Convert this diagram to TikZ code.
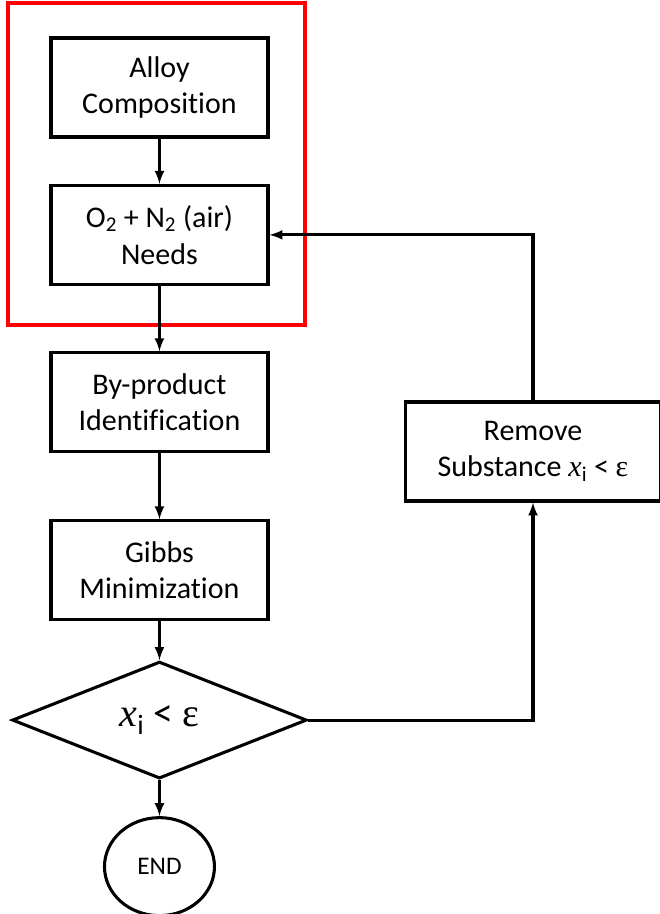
\documentclass[tikz,border=0pt]{standalone}
\usepackage{fontspec}
\setmainfont{Carlito}[Ligatures=NoCommon]
\newfontfamily\xfont{Liberation Serif}
\usetikzlibrary{positioning,calc,shapes.geometric}

\begin{document}
\begin{tikzpicture}
  \tikzset{box/.style={
      draw, line width=2.3pt, align=center, minimum width=162.75pt, minimum height=74.25pt,
      font=\fontsize{22.5}{27.5}\selectfont
    },
    decision/.style={diamond, draw, line width=2.3pt, inner sep=0pt,
      minimum width=221pt, minimum height=87.75pt, font=\fontsize{30}{36}\selectfont
    },
    stop/.style={ellipse, draw, line width=2.3pt, inner sep=0pt,
      minimum width=82.5pt, minimum height=73.5pt, font=\fontsize{19}{22}\selectfont
    },
    link/.style={-latex, line width=2.3pt}
  }

  \useasboundingbox (0,0) rectangle (495pt,-685.5pt);

  \node[box] (alloy) at (119.6pt,-65.6pt) {Alloy\\Composition};
  \node[box] (air) [below=34pt of alloy] {O\textsubscript{2} + N\textsubscript{2} (air)\\Needs};
  \node[box] (byprod) [below=49pt of air] {By-product\\Identification};
  \node[box] (gibbs) [below=49.5pt of byprod] {Gibbs\\Minimization};
  \node[decision] (check) [below=29pt of gibbs] {{\xfont\itshape x}\textsubscript{i} < {\xfont ε}};
  \node[stop] (end) [below=27pt of check] {END};

  \node[box, minimum width=191pt] (remove) at (399.75pt,-338.6pt)
  {Remove\\Substance {\xfont\itshape x}\textsubscript{i} < {\xfont ε}};

  \draw[red, line width=3pt] ($ (alloy.north west)+(-31pt,24.75pt) $) rectangle ($ (air.south east)+(26.25pt,-29.25pt) $);

  \draw[link] (alloy) -- (air);
  \draw[link] (air) -- (byprod);
  \draw[link] (byprod) -- (gibbs);
  \draw[link] (gibbs) -- (check);
  \draw[link] (check) -- (end);
  \draw[link] (check.east) -| (remove.south);
  \draw[link] (remove.north) |- (air.east);
\end{tikzpicture}
\end{document}
